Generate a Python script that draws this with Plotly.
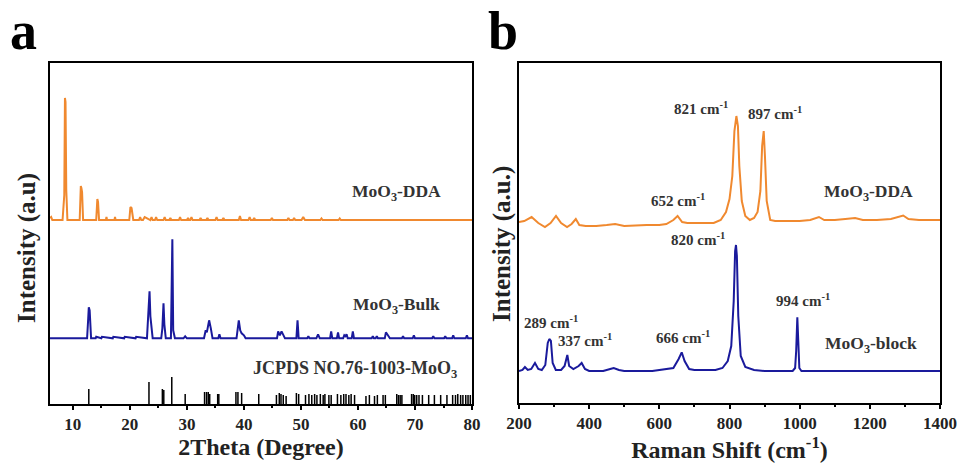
import plotly.graph_objects as go

# ---------------- Data: panel a (XRD) ----------------
xrd_dda_x = [6.0, 6.2, 6.4, 8.2, 8.5, 8.62, 8.72, 8.85, 9.05,
             11.2, 11.4, 11.5, 11.62, 11.8,
             14.1, 14.3, 14.42, 14.6,
             15.8, 15.9, 16.0, 17.3, 17.4, 17.5,
             19.9, 20.1, 20.3, 20.6,
             21.6, 21.8, 22.0, 22.3, 22.6, 23.6, 23.8, 24.0, 24.4, 24.6, 24.8,
             25.9, 26.1, 26.3, 26.9, 27.1, 27.3, 28.6, 28.8, 29.0, 30.0, 30.2, 30.4,
             30.6, 30.8, 31.0, 32.2, 32.4, 32.6, 33.4, 33.6, 33.8, 35.0, 35.2, 35.4,
             36.2, 36.4, 36.6, 39.1, 39.3, 39.5, 40.8, 41.0, 41.2, 41.6, 41.8, 42.0,
             44.7, 44.9, 45.1, 47.6, 47.8, 48.0, 48.6, 48.8, 49.0, 50.1, 50.4, 50.7,
             53.4, 53.6, 53.8, 56.6, 56.8, 57.0, 80.0]
xrd_dda_y = [2, 3, 0, 0, 25, 122, 118, 30, 0,
             0, 34, 32, 28, 0,
             0, 21, 18, 0,
             0, 3, 0, 0, 3, 0,
             0, 13, 12, 0,
             0, 3, 0, 0, 3, 0, 3, 0, 0, 3, 0,
             0, 3, 0, 0, 2, 0, 0, 3, 0, 0, 2, 0,
             0, 3, 0, 0, 2, 0, 0, 2, 0, 0, 3, 0,
             0, 2, 0, 0, 4, 0, 0, 3, 0, 0, 2, 0,
             0, 2, 0, 0, 2, 0, 0, 2, 0, 0, 3, 0,
             0, 1.5, 0, 0, 1.5, 0, 0]

xrd_bulk_x = [6.0, 12.5, 12.7, 12.8, 12.95, 13.2, 14.0, 14.1, 15.0, 15.1, 17.0, 17.1, 19.0, 19.1, 21.0, 21.1,
              23.0, 23.25, 23.45, 23.6, 23.8, 24.0,
              25.5, 25.7, 25.9, 26.05, 26.3,
              27.2, 27.45, 27.6, 27.9,
              29.4, 29.7, 30.0,
              33.0, 33.3, 33.5, 33.9, 34.2, 34.5,
              35.5, 35.7, 35.9,
              38.7, 39.1, 39.35, 39.6, 40.0, 40.3,
              45.8, 46.0, 46.3, 46.6, 46.9, 47.2,
              49.2, 49.4, 49.6,
              51.1, 51.3, 51.5, 52.7, 53.0, 53.3,
              55.1, 55.3, 55.5, 56.3, 56.5, 56.7, 57.4, 57.6, 57.8, 58.0, 58.2, 58.9, 59.1, 59.3,
              62.4, 62.6, 62.8, 63.1, 63.3, 63.5, 64.7, 64.9, 65.3, 65.6,
              67.7, 67.9, 68.1, 69.6, 69.8, 70.0, 73.0, 73.2, 73.4,
              75.1, 75.3, 75.5, 76.5, 76.7, 76.9, 78.9, 79.1, 79.3, 80.0]
xrd_bulk_y = [0, 0, 20, 31, 28, 0, 0, 1.5, 0, 1.5, 0, 1.5, 0, 1.5, 0, 1.5,
              0, 21, 47, 22, 6, 0,
              0, 10, 35, 14, 0,
              0, 99, 8, 0,
              0, 2, 0,
              0, 8, 6, 18, 10, 0,
              0, 4, 0,
              0, 18, 8, 5, 3, 0,
              0, 7, 3, 7, 3, 0,
              0, 18, 0,
              0, 2, 0, 0, 4, 0,
              0, 7, 0, 0, 6, 0, 0, 3, 2, 4, 0, 0, 7, 0,
              0, 2, 0, 0, 2, 0, 0, 6, 3, 0,
              0, 2, 0, 0, 3, 0, 0, 2, 0,
              0, 2, 0, 0, 3, 0, 0, 3, 0, 0]

jcpds_pos = [12.8, 23.35, 25.7, 25.95, 27.35, 29.7, 33.1, 33.45, 33.75, 34.0, 35.4, 35.6,
             38.6, 38.95, 39.6, 42.6, 45.7, 46.2, 46.5, 46.9, 47.4, 49.2, 49.6, 50.8,
             51.4, 51.9, 52.4, 52.8, 53.4, 53.9, 54.2, 54.9, 55.3, 56.4, 57.0, 57.5,
             57.9, 58.4, 58.8, 59.4, 61.4, 62.0, 62.9, 63.4, 64.4, 64.8, 66.8, 67.1,
             67.4, 67.7, 69.4, 69.7, 69.95, 70.3, 70.7, 71.3, 72.4, 73.4, 74.5, 75.6,
             76.6, 77.1, 77.5, 78.0, 78.4, 78.9, 79.3, 79.7]
jcpds_int = [15, 22, 15, 14, 27, 10, 12, 12, 12, 10, 10, 10,
             12, 12, 11, 10, 9, 11, 10, 9, 8, 11, 10, 9,
             10, 9, 10, 9, 10, 9, 10, 9, 9, 10, 9, 10,
             10, 9, 10, 9, 8, 9, 8, 9, 9, 9, 10, 9,
             9, 9, 10, 10, 9, 9, 9, 9, 9, 9, 9, 9,
             9, 9, 10, 9, 9, 9, 9, 9]

# ---------------- Data: panel b (Raman) ----------------
raman_dda_x = [200, 215, 236, 255, 274, 290, 305.5, 320, 337, 350, 362, 372, 390, 420, 450, 474, 500,
               540, 564, 600, 620, 640, 652, 665, 680, 710, 740, 755, 775, 790, 800, 808, 814,
               819.6, 824, 828, 835, 845, 858, 870, 880, 888, 893, 897.5, 901, 906, 916, 930,
               960, 1000, 1030, 1055, 1070, 1100, 1130, 1158, 1180, 1220, 1260, 1295, 1310,
               1340, 1370, 1400]
raman_dda_y = [4, 5, 9, 3, -1, 3, 10, 3, -1, 2, 7, 1, 0, 0, 1, 2, 0,
               1, 1, 1, 2, 6, 10, 4, 3, 3, 3, 3, 6, 14, 27, 50, 95,
               110, 100, 60, 25, 10, 6, 8, 14, 35, 80, 95, 70, 25, 6, 5,
               5, 5, 6, 9, 6, 6, 7, 8, 6, 6, 7, 10.5, 7,
               6, 6, 6]

raman_block_x = [200, 210, 217, 225, 235, 245.6, 255, 265, 275, 282, 286.5, 291, 296, 305, 320, 330,
                 337.8, 343, 355, 370, 378.6, 388, 400, 440, 460, 470, 485, 500, 580, 600, 640,
                 655, 663.8, 672, 685, 700, 760, 780, 795, 805, 812, 816, 818.5, 821, 825, 832,
                 845, 870, 900, 980, 987, 990, 993.3, 996, 999, 1005, 1400]
raman_block_y = [0, 1, 4, 1, 2, 8, 2, 1, 6, 28, 32, 30, 8, 1, 1, 5,
                 16, 5, 2, 5, 8, 2, 0, 0, 2, 3, 1, 0, 0, 1, 3,
                 12, 18.7, 10, 2, 1, 1, 3, 10, 25, 70, 120, 126, 115, 55, 15,
                 4, 1, 0, 0, 3, 20, 53.7, 30, 3, 0, 0]

# ---------------- Style constants ----------------
ORANGE = "#F0892F"
NAVY = "#1A1A9C"
FONT = "Liberation Serif"
OFF_DDA, OFF_BULK = 184, 65.7
OFF_R_DDA, OFF_R_BLOCK = 177, 32

fig = go.Figure()

fig.add_trace(go.Scatter(x=xrd_dda_x, y=[v + OFF_DDA for v in xrd_dda_y], mode="lines",
                         line=dict(color=ORANGE, width=2), xaxis="x", yaxis="y", showlegend=False))
fig.add_trace(go.Scatter(x=xrd_bulk_x, y=[v + OFF_BULK for v in xrd_bulk_y], mode="lines",
                         line=dict(color=NAVY, width=2), xaxis="x", yaxis="y", showlegend=False))
stick_x, stick_y = [], []
for p, h in zip(jcpds_pos, jcpds_int):
    stick_x += [p, p, None]
    stick_y += [0, h, None]
fig.add_trace(go.Scatter(x=stick_x, y=stick_y, mode="lines",
                         line=dict(color="black", width=1.5), xaxis="x", yaxis="y", showlegend=False))

fig.add_trace(go.Scatter(x=raman_dda_x, y=[v + OFF_R_DDA for v in raman_dda_y], mode="lines",
                         line=dict(color=ORANGE, width=2), xaxis="x2", yaxis="y2", showlegend=False))
fig.add_trace(go.Scatter(x=raman_block_x, y=[v + OFF_R_BLOCK for v in raman_block_y], mode="lines",
                         line=dict(color=NAVY, width=2), xaxis="x2", yaxis="y2", showlegend=False))

axis_common = dict(showline=True, linecolor="black", linewidth=2, mirror=True, showgrid=False,
                   zeroline=False, automargin=False)
xfont = dict(family=FONT, size=17, color="#222", weight="bold")
title_font = dict(family=FONT, size=24, color="#222")
fig.update_layout(
    width=960, height=463, margin=dict(l=0, r=0, t=0, b=0),
    paper_bgcolor="white", plot_bgcolor="white",
    xaxis=dict(domain=[0.0521, 0.4917], range=[6, 80], tickvals=[10, 20, 30, 40, 50, 60, 70, 80],
               ticks="outside", ticklen=4, tickwidth=2, tickcolor="black",
               minor=dict(ticks="outside", dtick=5, tick0=0, ticklen=2, tickwidth=1.5, tickcolor="black"),
               tickfont=xfont, anchor="y",
               title=dict(text="<b>2Theta (Degree)</b>", font=title_font, standoff=0),
               **axis_common),
    yaxis=dict(domain=[0.1274, 0.8639], range=[0, 341], showticklabels=False, ticks="", anchor="x",
               **axis_common),
    xaxis2=dict(domain=[0.5406, 0.9792], range=[200, 1400], tickvals=[200, 400, 600, 800, 1000, 1200, 1400],
                ticks="outside", ticklen=4, tickwidth=2, tickcolor="black",
                minor=dict(ticks="outside", dtick=100, tick0=0, ticklen=2, tickwidth=1.5, tickcolor="black"),
                tickfont=xfont, anchor="y2",
                title=dict(text="<b>Raman Shift (cm<sup>-1</sup>)</b>", font=title_font, standoff=0),
                **axis_common),
    yaxis2=dict(domain=[0.1296, 0.8639], range=[0, 340], showticklabels=False, ticks="", anchor="x2",
                **axis_common),
)

lab_font = dict(family=FONT, size=17.5, color="#333")
peak_font = dict(family=FONT, size=15, color="#333")
ann = [
    ("x", "y", 66.8, 212, "<b>MoO<sub>3</sub>-DDA</b>", lab_font),
    ("x", "y", 66.7, 99, "<b>MoO<sub>3</sub>-Bulk</b>", lab_font),
    ("x", "y", 59.5, 35, "<b>JCPDS NO.76-1003-MoO<sub>3</sub></b>", dict(family=FONT, size=18, color="#333")),
    ("x2", "y2", 719, 295, "<b>821 cm<sup>-1</sup></b>", peak_font),
    ("x2", "y2", 930, 290, "<b>897 cm<sup>-1</sup></b>", peak_font),
    ("x2", "y2", 653, 203, "<b>652 cm<sup>-1</sup></b>", peak_font),
    ("x2", "y2", 1195, 211, "<b>MoO<sub>3</sub>-DDA</b>", lab_font),
    ("x2", "y2", 710, 164, "<b>820 cm<sup>-1</sup></b>", peak_font),
    ("x2", "y2", 1010, 103, "<b>994 cm<sup>-1</sup></b>", peak_font),
    ("x2", "y2", 291, 81, "<b>289 cm<sup>-1</sup></b>", peak_font),
    ("x2", "y2", 388, 63, "<b>337 cm<sup>-1</sup></b>", peak_font),
    ("x2", "y2", 667, 66, "<b>666 cm<sup>-1</sup></b>", peak_font),
    ("x2", "y2", 1203, 58, "<b>MoO<sub>3</sub>-block</b>", lab_font),
]
for xr, yr, xv, yv, txt, f in ann:
    fig.add_annotation(x=xv, y=yv, xref=xr, yref=yr, text=txt, showarrow=False, font=f,
                       xanchor="center", yanchor="middle")

# y-axis titles
yt_font = dict(family=FONT, size=25, color="#222")
fig.add_annotation(x=27 / 960, y=1 - 248 / 463, xref="paper", yref="paper", text="<b>Intensity (a.u)</b>",
                   textangle=-90, showarrow=False, font=yt_font, xanchor="center", yanchor="middle")
fig.add_annotation(x=502 / 960, y=1 - 244 / 463, xref="paper", yref="paper", text="<b>Intensity (a.u.)</b>",
                   textangle=-90, showarrow=False, font=yt_font, xanchor="center", yanchor="middle")

# panel letters
fig.add_annotation(x=23 / 960, y=1 - 31 / 463, xref="paper", yref="paper", text="<b>a</b>",
                   showarrow=False, font=dict(family=FONT, size=54, color="black"),
                   xanchor="center", yanchor="middle")
fig.add_annotation(x=503 / 960, y=1 - 31 / 463, xref="paper", yref="paper", text="<b>b</b>",
                   showarrow=False, font=dict(family=FONT, size=54, color="black"),
                   xanchor="center", yanchor="middle")

fig.write_html("out.html", config={"displayModeBar": False},
               post_script="document.body.style.margin='0';document.body.style.padding='0';")
